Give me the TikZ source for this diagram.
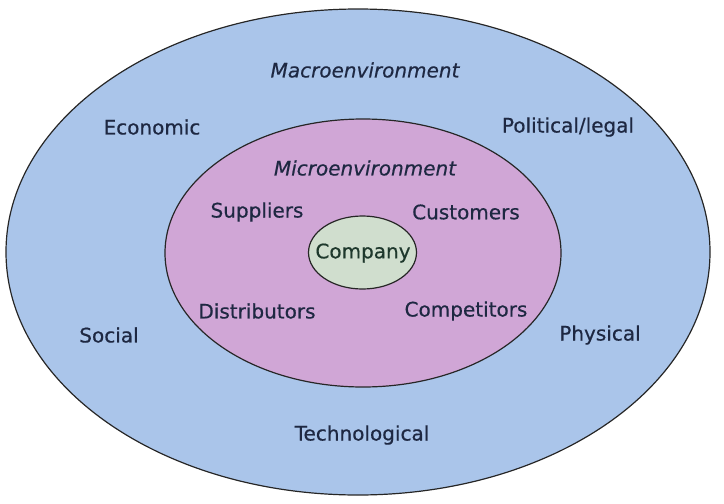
\documentclass[tikz,border=0pt]{standalone}
\usepackage{fontspec}
\setmainfont{DejaVu Sans}[FakeBold=0.5]
\definecolor{macroblue}{RGB}{170,197,234}
\definecolor{micropink}{RGB}{208,166,214}
\definecolor{companygreen}{RGB}{208,222,206}
\definecolor{inktext}{RGB}{30,40,66}
\definecolor{companyink}{RGB}{30,56,44}
\tikzset{lbl/.style={text=inktext,font=\fontsize{20}{24}\selectfont,inner sep=0pt},
         ring/.style={draw=black!85,line width=1.2pt}}
\begin{document}
\begin{tikzpicture}[x=1pt,y=-1pt]
                \useasboundingbox (0,0) rectangle (724,504);
                \draw[ring,fill=macroblue] (358,252) ellipse (352 and 243);
                \draw[ring,fill=micropink] (363,253) ellipse (198 and 134);
                \draw[ring,fill=companygreen] (362.5,252.5) ellipse (54 and 36.5);
                \node[lbl,text=companyink] (company) at (363,253) {Company};
                \node[lbl,font=\fontsize{20}{24}\selectfont\itshape] (macro) at (365,70) {Macroenvironment};
                \node[lbl,font=\fontsize{20}{24}\selectfont\itshape] (micro) at (365,168) {Microenvironment};
                \node[lbl] (economic) at (152,127) {Economic};
                \node[lbl] (political) at (568,127) {Political/legal};
                \node[lbl] (suppliers) at (257,212) {Suppliers};
                \node[lbl] (customers) at (466,212) {Customers};
                \node[lbl] (distributors) at (257,311) {Distributors};
                \node[lbl] (competitors) at (466,311) {Competitors};
                \node[lbl] (social) at (109,335) {Social};
                \node[lbl] (physical) at (600,335) {Physical};
                \node[lbl] (tech) at (362,435) {Technological};
            \end{tikzpicture}
\end{document}
